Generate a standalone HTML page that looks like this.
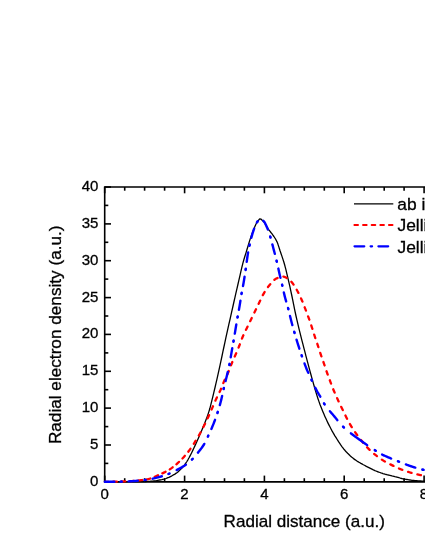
<!DOCTYPE html>
<html><head><meta charset="utf-8"><title>Radial electron density</title>
<style>
html,body{margin:0;padding:0;background:#fff;}
body{width:425px;height:550px;overflow:hidden;font-family:"Liberation Sans",sans-serif;}
svg{display:block;will-change:transform;}
text{font-family:"Liberation Sans",sans-serif;fill:#000;stroke:#000;stroke-width:0.3px;}
</style></head><body>
<svg width="425" height="550" viewBox="0 0 425 550">
<rect x="0" y="0" width="425" height="550" fill="#fff"/>
<g stroke="#000" stroke-width="1.6" fill="none" stroke-linecap="butt">
<path d="M432,187.0 L104.7,187.0 L104.7,481.85 L432,481.85" stroke-linejoin="miter"/>
<line x1="104.7" y1="481.85" x2="104.7" y2="475.6"/>
<line x1="104.7" y1="187.0" x2="104.7" y2="193.3"/>
<line x1="124.7" y1="481.85" x2="124.7" y2="478.2"/>
<line x1="124.7" y1="187.0" x2="124.7" y2="190.7"/>
<line x1="144.6" y1="481.85" x2="144.6" y2="478.2"/>
<line x1="144.6" y1="187.0" x2="144.6" y2="190.7"/>
<line x1="164.6" y1="481.85" x2="164.6" y2="478.2"/>
<line x1="164.6" y1="187.0" x2="164.6" y2="190.7"/>
<line x1="184.6" y1="481.85" x2="184.6" y2="475.6"/>
<line x1="184.6" y1="187.0" x2="184.6" y2="193.3"/>
<line x1="204.5" y1="481.85" x2="204.5" y2="478.2"/>
<line x1="204.5" y1="187.0" x2="204.5" y2="190.7"/>
<line x1="224.5" y1="481.85" x2="224.5" y2="478.2"/>
<line x1="224.5" y1="187.0" x2="224.5" y2="190.7"/>
<line x1="244.4" y1="481.85" x2="244.4" y2="478.2"/>
<line x1="244.4" y1="187.0" x2="244.4" y2="190.7"/>
<line x1="264.4" y1="481.85" x2="264.4" y2="475.6"/>
<line x1="264.4" y1="187.0" x2="264.4" y2="193.3"/>
<line x1="284.4" y1="481.85" x2="284.4" y2="478.2"/>
<line x1="284.4" y1="187.0" x2="284.4" y2="190.7"/>
<line x1="304.3" y1="481.85" x2="304.3" y2="478.2"/>
<line x1="304.3" y1="187.0" x2="304.3" y2="190.7"/>
<line x1="324.3" y1="481.85" x2="324.3" y2="478.2"/>
<line x1="324.3" y1="187.0" x2="324.3" y2="190.7"/>
<line x1="344.2" y1="481.85" x2="344.2" y2="475.6"/>
<line x1="344.2" y1="187.0" x2="344.2" y2="193.3"/>
<line x1="364.2" y1="481.85" x2="364.2" y2="478.2"/>
<line x1="364.2" y1="187.0" x2="364.2" y2="190.7"/>
<line x1="384.2" y1="481.85" x2="384.2" y2="478.2"/>
<line x1="384.2" y1="187.0" x2="384.2" y2="190.7"/>
<line x1="404.1" y1="481.85" x2="404.1" y2="478.2"/>
<line x1="404.1" y1="187.0" x2="404.1" y2="190.7"/>
<line x1="424.1" y1="481.85" x2="424.1" y2="475.6"/>
<line x1="424.1" y1="187.0" x2="424.1" y2="193.3"/>
<line x1="104.7" y1="481.9" x2="111.0" y2="481.9"/>
<line x1="104.7" y1="463.4" x2="108.3" y2="463.4"/>
<line x1="104.7" y1="445.0" x2="111.0" y2="445.0"/>
<line x1="104.7" y1="426.6" x2="108.3" y2="426.6"/>
<line x1="104.7" y1="408.1" x2="111.0" y2="408.1"/>
<line x1="104.7" y1="389.7" x2="108.3" y2="389.7"/>
<line x1="104.7" y1="371.3" x2="111.0" y2="371.3"/>
<line x1="104.7" y1="352.9" x2="108.3" y2="352.9"/>
<line x1="104.7" y1="334.4" x2="111.0" y2="334.4"/>
<line x1="104.7" y1="316.0" x2="108.3" y2="316.0"/>
<line x1="104.7" y1="297.6" x2="111.0" y2="297.6"/>
<line x1="104.7" y1="279.1" x2="108.3" y2="279.1"/>
<line x1="104.7" y1="260.7" x2="111.0" y2="260.7"/>
<line x1="104.7" y1="242.3" x2="108.3" y2="242.3"/>
<line x1="104.7" y1="223.9" x2="111.0" y2="223.9"/>
<line x1="104.7" y1="205.4" x2="108.3" y2="205.4"/>
<line x1="104.7" y1="187.0" x2="111.0" y2="187.0"/>
</g>
<g font-size="15px">
<text x="104.6" y="499.2" text-anchor="middle">0</text>
<text x="184.5" y="499.2" text-anchor="middle">2</text>
<text x="264.3" y="499.2" text-anchor="middle">4</text>
<text x="344.1" y="499.2" text-anchor="middle">6</text>
<text x="424.0" y="499.2" text-anchor="middle">8</text>
<text x="98.4" y="485.8" text-anchor="end">0</text>
<text x="98.4" y="448.9" text-anchor="end">5</text>
<text x="98.4" y="412.0" text-anchor="end">10</text>
<text x="98.4" y="375.2" text-anchor="end">15</text>
<text x="98.4" y="338.3" text-anchor="end">20</text>
<text x="98.4" y="301.5" text-anchor="end">25</text>
<text x="98.4" y="264.6" text-anchor="end">30</text>
<text x="98.4" y="227.8" text-anchor="end">35</text>
<text x="98.4" y="190.9" text-anchor="end">40</text>
</g>
<text x="223.6" y="526.5" font-size="17px" textLength="161.3" lengthAdjust="spacingAndGlyphs">Radial distance (a.u.)</text>
<text transform="translate(60.5,444.1) rotate(-90)" font-size="17px" textLength="218.6" lengthAdjust="spacingAndGlyphs">Radial electron density (a.u.)</text>
<g fill="none" stroke-linejoin="round">
<path d="M104.9,481.8 L105.9,481.8 L106.9,481.8 L107.9,481.8 L108.9,481.8 L109.9,481.8 L110.9,481.8 L111.9,481.8 L112.9,481.8 L113.9,481.8 L114.9,481.8 L115.9,481.8 L116.9,481.8 L117.9,481.8 L118.9,481.8 L119.9,481.8 L120.9,481.8 L121.9,481.8 L122.9,481.8 L123.9,481.8 L124.9,481.8 L125.9,481.8 L126.9,481.7 L127.9,481.7 L128.9,481.7 L129.9,481.7 L130.9,481.7 L131.9,481.7 L132.9,481.7 L133.9,481.7 L134.9,481.7 L135.9,481.7 L136.9,481.7 L137.9,481.7 L138.9,481.7 L139.9,481.6 L140.9,481.6 L141.9,481.6 L142.9,481.6 L143.9,481.5 L144.9,481.5 L145.9,481.5 L146.9,481.4 L147.9,481.4 L148.9,481.3 L149.9,481.3 L150.9,481.2 L151.9,481.2 L152.9,481.1 L153.9,481.0 L154.9,480.9 L155.9,480.8 L156.9,480.6 L157.9,480.4 L158.9,480.2 L159.9,480.0 L160.9,479.8 L161.9,479.6 L162.9,479.3 L163.9,479.1 L164.9,478.8 L165.9,478.5 L166.9,478.1 L167.9,477.7 L168.9,477.3 L169.9,476.8 L170.9,476.3 L171.9,475.8 L172.9,475.2 L173.9,474.7 L174.9,474.1 L175.9,473.4 L176.9,472.7 L177.9,471.9 L178.9,471.0 L179.9,470.1 L180.9,469.0 L181.9,468.0 L182.9,466.8 L183.9,465.7 L184.9,464.4 L185.9,463.0 L186.9,461.5 L187.9,459.8 L188.9,458.0 L189.9,456.1 L190.9,454.2 L191.9,452.2 L192.9,450.1 L193.9,448.0 L194.9,445.9 L195.9,443.7 L196.9,441.5 L197.9,439.2 L198.9,436.9 L199.9,434.6 L200.9,432.3 L201.9,430.0 L202.9,427.6 L203.9,425.2 L204.9,422.7 L205.9,420.1 L206.9,417.4 L207.9,414.6 L208.9,411.6 L209.9,408.3 L210.9,404.4 L211.9,400.4 L212.9,396.3 L213.9,392.2 L214.9,388.0 L215.9,383.7 L216.9,379.3 L217.9,374.9 L218.9,370.4 L219.9,365.9 L220.9,361.2 L221.9,356.5 L222.9,351.7 L223.9,347.0 L224.9,342.3 L225.9,337.7 L226.9,333.2 L227.9,328.7 L228.9,324.2 L229.9,319.8 L230.9,315.3 L231.9,310.9 L232.9,306.5 L233.9,302.0 L234.9,297.6 L235.9,293.2 L236.9,288.9 L237.9,284.5 L238.9,280.2 L239.9,275.8 L240.9,271.4 L241.9,267.1 L242.9,263.1 L243.9,259.5 L244.9,256.2 L245.9,253.1 L246.9,249.8 L247.9,246.5 L248.9,243.1 L249.9,239.9 L250.9,237.0 L251.9,234.2 L252.9,231.6 L253.9,229.0 L254.9,226.6 L255.9,224.3 L256.9,222.5 L257.9,221.0 L258.9,219.8 L259.9,218.8 L260.9,219.1 L261.9,220.0 L262.9,220.9 L263.9,221.9 L264.9,223.3 L265.9,225.1 L266.9,226.9 L267.9,228.5 L268.9,230.0 L269.9,231.2 L270.9,232.5 L271.9,233.7 L272.9,235.1 L273.9,236.5 L274.9,238.0 L275.9,239.7 L276.9,241.6 L277.9,244.1 L278.9,247.1 L279.9,250.3 L280.9,253.2 L281.9,256.1 L282.9,259.1 L283.9,262.3 L284.9,265.8 L285.9,269.7 L286.9,273.9 L287.9,278.1 L288.9,282.4 L289.9,286.7 L290.9,291.3 L291.9,296.0 L292.9,300.9 L293.9,305.9 L294.9,310.8 L295.9,315.5 L296.9,319.9 L297.9,324.2 L298.9,328.4 L299.9,332.4 L300.9,336.4 L301.9,340.3 L302.9,344.2 L303.9,348.1 L304.9,351.9 L305.9,355.8 L306.9,359.6 L307.9,363.4 L308.9,367.2 L309.9,370.9 L310.9,374.5 L311.9,378.1 L312.9,381.7 L313.9,385.2 L314.9,388.7 L315.9,392.1 L316.9,395.4 L317.9,398.5 L318.9,401.4 L319.9,404.2 L320.9,406.8 L321.9,409.3 L322.9,411.7 L323.9,414.1 L324.9,416.4 L325.9,418.6 L326.9,420.8 L327.9,422.9 L328.9,424.9 L329.9,426.8 L330.9,428.7 L331.9,430.6 L332.9,432.4 L333.9,434.1 L334.9,435.8 L335.9,437.4 L336.9,439.0 L337.9,440.6 L338.9,442.2 L339.9,443.7 L340.9,445.2 L341.9,446.6 L342.9,447.9 L343.9,449.2 L344.9,450.3 L345.9,451.5 L346.9,452.5 L347.9,453.6 L348.9,454.5 L349.9,455.5 L350.9,456.4 L351.9,457.3 L352.9,458.1 L353.9,458.9 L354.9,459.6 L355.9,460.3 L356.9,461.0 L357.9,461.6 L358.9,462.2 L359.9,462.8 L360.9,463.4 L361.9,463.9 L362.9,464.5 L363.9,465.0 L364.9,465.5 L365.9,466.1 L366.9,466.6 L367.9,467.2 L368.9,467.7 L369.9,468.2 L370.9,468.7 L371.9,469.2 L372.9,469.7 L373.9,470.1 L374.9,470.6 L375.9,471.0 L376.9,471.4 L377.9,471.8 L378.9,472.2 L379.9,472.5 L380.9,472.9 L381.9,473.2 L382.9,473.6 L383.9,473.9 L384.9,474.2 L385.9,474.5 L386.9,474.7 L387.9,475.0 L388.9,475.2 L389.9,475.4 L390.9,475.6 L391.9,475.9 L392.9,476.1 L393.9,476.3 L394.9,476.6 L395.9,476.8 L396.9,477.1 L397.9,477.4 L398.9,477.7 L399.9,478.0 L400.9,478.3 L401.9,478.5 L402.9,478.8 L403.9,479.0 L404.9,479.2 L405.9,479.4 L406.9,479.5 L407.9,479.7 L408.9,479.9 L409.9,480.0 L410.9,480.1 L411.9,480.3 L412.9,480.4 L413.9,480.5 L414.9,480.6 L415.9,480.6 L416.9,480.7 L417.9,480.8 L418.9,480.9 L419.9,480.9 L420.9,481.0 L421.9,481.1 L422.9,481.1 L423.9,481.2 L424.9,481.2 L425.9,481.2 L426.9,481.3 L427.9,481.3 L428.9,481.3 L429.9,481.4 L430.9,481.4 L431.9,481.4" stroke="#000" stroke-width="1.3"/>
<g stroke="#ff0000" stroke-width="2.3" stroke-linecap="round">
<path d="M104.90,481.80 L105.90,481.80 L106.90,481.79 L107.90,481.79 L108.90,481.78 L109.90,481.77 L110.90,481.76 L111.90,481.74 L112.90,481.72 L113.90,481.70 L114.90,481.68 L115.90,481.66 L116.90,481.64 L117.90,481.61 L118.90,481.58 L119.90,481.56 L120.90,481.53 L121.90,481.50 L122.90,481.47 L123.90,481.44 L124.90,481.40 L125.90,481.37 L126.90,481.33 L127.90,481.28 L128.90,481.23 L129.90,481.17 L130.90,481.11 L131.90,481.04 L132.90,480.97 L133.90,480.89 L134.90,480.80 L135.90,480.71 L136.90,480.61 L137.90,480.51 L138.90,480.40 L139.90,480.29 L140.90,480.17 L141.90,480.04 L142.90,479.91 L143.90,479.77 L144.90,479.62 L145.90,479.47 L146.90,479.32 L147.90,479.13 L148.90,478.90 L149.90,478.62 L150.90,478.29 L151.90,477.93 L152.90,477.55 L153.90,477.13 L154.90,476.70 L155.90,476.25 L156.90,475.80 L157.90,475.34 L158.90,474.89 L159.90,474.44 L160.90,474.00 L161.90,473.55 L162.90,473.09 L163.90,472.61 L164.90,472.12 L165.90,471.60 L166.90,471.06 L167.90,470.50 L168.90,469.91 L169.90,469.28 L170.90,468.61 L171.90,467.90 L172.90,467.15 L173.90,466.36 L174.90,465.55 L175.90,464.70 L176.90,463.82 L177.90,462.92 L178.90,462.01 L179.90,461.06 L180.90,460.08 L181.90,459.06 L182.90,458.01 L183.90,456.92 L184.90,455.79 L185.90,454.62 L186.40,454.03" stroke-dasharray="3.60 4.79"/>
<path d="M186.40,454.03 L187.40,452.80 L188.40,451.54 L189.40,450.23 L190.40,448.85 L191.40,447.42 L192.40,445.93 L193.40,444.40 L194.40,442.83 L195.40,441.23 L196.40,439.59 L197.40,437.93 L198.40,436.25 L199.40,434.50 L200.40,432.71 L201.40,430.87 L202.40,428.99 L203.40,427.06 L204.40,425.10 L205.40,423.10 L206.40,421.02 L207.40,418.87 L208.40,416.67 L209.40,414.44 L210.40,412.20 L211.40,409.94 L212.40,407.63 L213.40,405.28 L214.40,402.94 L215.40,400.64 L216.40,398.42 L217.40,396.33 L218.40,394.34 L219.40,392.36 L220.40,390.28 L221.40,387.98 L222.40,385.43 L223.40,382.87 L224.40,380.54 L225.40,378.50 L226.40,376.53 L227.40,374.43 L228.40,372.01 L229.40,369.38 L230.40,366.72 L231.40,364.22 L232.40,361.88 L233.40,359.61 L234.40,357.35 L235.40,355.05 L236.40,352.77 L237.40,350.47 L238.40,348.09 L239.40,345.53 L240.40,342.75 L241.40,339.98 L242.40,337.49 L243.40,335.25 L244.40,333.13 L245.40,331.07 L246.40,328.98 L247.40,326.89 L248.40,324.82 L249.40,322.75 L250.40,320.69 L251.40,318.64 L252.40,316.58 L253.40,314.54 L254.40,312.50 L255.40,310.47 L256.40,308.46 L257.40,306.45 L258.40,304.41 L259.40,302.31 L260.40,300.13 L261.40,297.96 L262.40,295.92 L263.40,294.09 L264.40,292.36 L265.40,290.71 L266.40,289.16 L267.40,287.73 L268.40,286.42 L269.40,285.20 L270.40,283.98 L271.40,282.81 L272.40,281.70 L273.40,280.69 L274.40,279.81 L275.40,279.09 L276.40,278.55 L277.40,278.11 L278.40,277.69 L279.40,277.31 L280.40,276.99 L281.40,276.76 L282.40,276.62 L283.40,276.62 L284.40,276.83 L285.40,277.23 L286.40,277.77 L287.40,278.40 L288.40,279.09 L289.40,279.80 L290.40,280.70 L291.40,281.80 L292.40,283.03 L293.40,284.34 L294.40,285.80 L295.40,287.43 L296.40,289.17 L297.40,291.00 L298.40,292.88 L299.40,294.85 L300.40,296.95 L301.40,299.16 L302.40,301.47 L303.40,303.95 L304.40,306.56 L305.40,309.21 L306.40,311.83 L307.40,314.44 L308.40,317.12 L309.40,319.91 L310.40,322.80 L311.40,325.79 L312.40,328.87 L313.40,332.10 L314.40,335.28 L315.40,338.28 L316.40,341.17 L317.40,344.10 L318.40,347.18 L319.40,350.34 L320.40,353.40 L321.40,356.27 L322.40,359.05 L323.40,361.90 L324.40,364.93 L325.40,368.02 L326.40,370.97 L327.40,373.74 L328.40,376.42 L329.40,379.10 L330.40,381.85 L331.40,384.60 L332.40,387.24 L333.40,389.70 L334.40,392.03 L335.40,394.29 L336.40,396.52 L337.40,398.75 L338.40,400.95 L339.40,403.11 L340.40,405.23 L341.40,407.31 L342.40,409.36 L343.40,411.38 L344.40,413.41 L345.40,415.46 L346.40,417.52 L347.40,419.52 L348.40,421.42 L349.40,423.20 L350.40,424.91 L351.40,426.57 L352.40,428.16 L353.40,429.70 L354.40,431.19 L355.40,432.62 L356.40,433.99 L357.40,435.32 L358.40,436.62 L359.40,437.91 L360.40,439.21 L361.40,440.50 L362.40,441.80 L363.40,443.06 L364.40,444.30 L365.40,445.48 L366.40,446.59 L367.40,447.65 L368.40,448.67 L369.40,449.66 L370.40,450.61 L371.40,451.53 L372.40,452.42 L373.40,453.29 L374.40,454.12 L375.40,454.93 L376.40,455.72 L377.40,456.48 L378.40,457.23 L379.40,457.96 L380.40,458.66 L381.40,459.34 L382.40,459.99 L383.40,460.62 L384.40,461.22 L385.40,461.79 L386.40,462.33 L387.40,462.86 L388.40,463.37 L389.40,463.87 L390.40,464.37 L391.40,464.86 L392.40,465.35 L393.40,465.85 L394.40,466.34 L395.40,466.84 L396.40,467.32 L397.40,467.80 L398.40,468.26 L399.40,468.70 L400.40,469.12 L401.40,469.52 L402.40,469.90 L403.40,470.28 L404.40,470.64 L405.40,470.99 L406.40,471.33 L407.40,471.66 L408.40,471.97 L409.40,472.27 L410.40,472.56 L411.40,472.83 L412.40,473.09 L413.40,473.35 L414.40,473.59 L415.40,473.83 L416.40,474.07 L417.40,474.31 L418.40,474.55 L419.40,474.79 L420.40,475.02 L421.40,475.26 L422.40,475.49 L423.40,475.71 L424.40,475.92 L425.40,476.12 L426.40,476.32 L427.40,476.51 L428.40,476.69 L429.40,476.87 L430.40,477.04 L431.40,477.20 L432.00,477.30" stroke-dasharray="3.60 6.05" stroke-dashoffset="6.63"/>
</g>
<g stroke="#0000ff" stroke-width="2.4" stroke-linecap="round">
<path d="M104.90,481.80 L105.40,481.80 L105.90,481.80 L106.40,481.80 L106.90,481.80 L107.40,481.79 L107.90,481.79 L108.40,481.79 L108.90,481.79 L109.40,481.78 L109.90,481.78 L110.40,481.77 L110.90,481.77 L111.40,481.76 L111.90,481.76 L112.40,481.75 L112.90,481.74 L113.40,481.74 L113.90,481.73 L114.40,481.72 L114.90,481.71 L115.40,481.71 L115.90,481.70 L116.40,481.69 L116.90,481.68 L117.40,481.67 L117.90,481.66 L118.40,481.65 L118.90,481.64 L119.40,481.63 L119.90,481.62 L120.40,481.61 L120.90,481.60 L121.20,481.59" stroke-dasharray="9.50 6.15 0.65 0"/>
<path d="M121.20,481.59 L121.70,481.58 L122.20,481.57 L122.70,481.56 L123.20,481.54 L123.70,481.53 L124.20,481.52 L124.70,481.51 L125.20,481.49 L125.70,481.48 L126.20,481.47 L126.70,481.45 L127.20,481.43 L127.70,481.41 L128.20,481.39 L128.70,481.36 L129.20,481.34 L129.70,481.31 L130.20,481.29 L130.70,481.26 L131.20,481.23 L131.70,481.20 L132.20,481.16 L132.70,481.13 L133.20,481.09 L133.70,481.06 L134.20,481.02 L134.70,480.98 L135.20,480.94 L135.70,480.90 L136.20,480.86 L136.70,480.81 L137.20,480.77 L137.70,480.72 L138.20,480.68 L138.70,480.63 L139.20,480.58 L139.70,480.53 L140.20,480.48 L140.70,480.43 L141.20,480.37 L141.70,480.32 L142.20,480.27 L142.70,480.21 L143.20,480.15 L143.70,480.10 L144.20,480.04 L144.70,479.98 L145.15,479.93" stroke-dasharray="0.65 6.74 9.25 6.74 0.65 0"/>
<path d="M145.15,479.93 L145.65,479.87 L146.15,479.81 L146.65,479.74 L147.15,479.68 L147.65,479.61 L148.15,479.54 L148.65,479.46 L149.15,479.38 L149.65,479.30 L150.15,479.20 L150.65,479.11 L151.15,479.01 L151.65,478.90 L152.15,478.80 L152.65,478.69 L153.15,478.57 L153.65,478.45 L154.15,478.34 L154.65,478.21 L155.15,478.09 L155.65,477.96 L156.15,477.83 L156.65,477.70 L157.15,477.57 L157.65,477.44 L158.15,477.30 L158.65,477.17 L159.15,477.03 L159.65,476.90 L160.15,476.76 L160.65,476.62 L161.15,476.48 L161.65,476.33 L162.15,476.18 L162.65,476.03 L163.15,475.87 L163.65,475.71 L164.15,475.54 L164.65,475.37 L165.15,475.20 L165.65,475.03 L166.15,474.85 L166.65,474.66 L167.15,474.48 L167.65,474.29 L168.15,474.10 L168.65,473.90 L169.00,473.76" stroke-dasharray="0.65 6.95 9.51 6.95 0.65 0"/>
<path d="M169.00,473.76 L169.50,473.56 L170.00,473.35 L170.50,473.14 L171.00,472.92 L171.50,472.69 L172.00,472.46 L172.50,472.22 L173.00,471.97 L173.50,471.73 L174.00,471.47 L174.50,471.22 L175.00,470.96 L175.50,470.69 L176.00,470.43 L176.50,470.16 L177.00,469.89 L177.50,469.62 L178.00,469.34 L178.50,469.07 L179.00,468.79 L179.50,468.51 L180.00,468.24 L180.50,467.97 L181.00,467.69 L181.50,467.41 L182.00,467.14 L182.50,466.85 L183.00,466.56 L183.50,466.27 L184.00,465.97 L184.50,465.67 L185.00,465.35 L185.50,465.03 L186.00,464.70 L186.50,464.36 L187.00,464.00 L187.50,463.64 L188.00,463.26 L188.50,462.86 L189.00,462.44 L189.50,462.01 L190.00,461.55 L190.50,461.07 L191.00,460.58 L191.50,460.06 L192.00,459.54 L192.30,459.22" stroke-dasharray="0.65 7.86 10.65 7.86 0.65 0"/>
<path d="M192.30,459.22 L192.80,458.67 L193.30,458.11 L193.80,457.54 L194.30,456.96 L194.80,456.37 L195.30,455.78 L195.80,455.18 L196.30,454.58 L196.80,453.97 L197.30,453.36 L197.80,452.76 L198.30,452.15 L198.80,451.54 L199.30,450.92 L199.80,450.30 L200.30,449.67 L200.80,449.02 L201.30,448.36 L201.80,447.69 L202.30,446.99 L202.80,446.27 L203.30,445.53 L203.80,444.75 L204.30,443.95 L204.80,443.12 L205.30,442.24 L205.80,441.26 L206.30,440.19 L206.80,439.07 L207.30,437.92 L207.80,436.77 L208.10,436.10" stroke-dasharray="0.65 8.01 10.85 8.01 0.65 0"/>
<path d="M208.10,436.10 L208.60,435.00 L209.10,433.91 L209.60,432.83 L210.10,431.74 L210.60,430.64 L211.10,429.53 L211.60,428.40 L212.10,427.25 L212.60,426.07 L213.10,424.85 L213.60,423.59 L214.10,422.31 L214.60,420.99 L215.10,419.65 L215.60,418.27 L216.10,416.86 L216.60,415.41 L217.10,413.92 L217.60,412.40" stroke-dasharray="0.65 7.21 9.84 7.21 0.65 0"/>
<path d="M217.60,412.40 L218.10,410.84 L218.60,409.24 L219.10,407.60 L219.60,405.90 L220.10,404.14 L220.60,402.30 L221.10,400.39 L221.60,398.34 L222.10,396.10 L222.60,393.75 L223.10,391.40 L223.60,389.13 L223.75,388.49" stroke-dasharray="0.65 6.95 9.51 6.95 0.65 0"/>
<path d="M223.75,388.49 L224.25,386.38 L224.75,384.33 L225.25,382.32 L225.75,380.31 L226.25,378.28 L226.75,376.21 L227.25,374.12 L227.75,372.06 L228.25,369.96 L228.75,367.77 L229.25,365.44 L229.45,364.45" stroke-dasharray="0.65 6.95 9.51 6.95 0.65 0"/>
<path d="M229.45,364.45 L229.95,361.76 L230.45,358.85 L230.95,355.84 L231.45,352.86 L231.95,350.02 L232.45,347.23 L232.95,344.45 L233.45,341.65 L233.55,341.08" stroke-dasharray="0.65 6.65 9.13 6.65 0.65 0"/>
<path d="M233.55,341.08 L234.05,338.19 L234.55,335.18 L235.05,332.07 L235.55,329.00 L236.05,326.02 L236.55,323.07 L237.05,320.16 L237.55,317.29 L237.60,317.00" stroke-dasharray="0.65 6.86 9.40 6.86 0.65 0"/>
<path d="M237.60,317.00 L238.10,314.20 L238.60,311.45 L239.10,308.70 L239.60,305.87 L240.10,302.87 L240.60,299.67 L241.10,296.45 L241.60,293.40" stroke-dasharray="0.65 6.71 9.22 6.71 0.65 0"/>
<path d="M241.60,293.40 L242.10,290.63 L242.60,288.02 L243.10,285.42 L243.60,282.68 L244.10,279.71 L244.60,276.57 L245.10,273.32 L245.60,270.00 L245.70,269.32" stroke-dasharray="0.65 6.86 9.40 6.86 0.65 0"/>
<path d="M245.70,269.32 L246.20,265.73 L246.70,261.96 L247.20,258.25 L247.70,254.82 L248.20,251.88 L248.70,249.22 L249.20,246.77 L249.55,245.15" stroke-dasharray="0.65 6.88 9.43 6.88 0.65 0"/>
<path d="M249.55,245.15 L250.05,242.96 L250.55,240.89 L251.05,238.89 L251.55,236.98 L252.05,235.16 L252.55,233.44 L253.05,231.84 L253.55,230.37 L254.05,228.95 L254.55,227.57 L255.05,226.27 L255.55,225.06 L256.05,223.97 L256.55,223.02 L257.05,222.21 L257.30,221.85" stroke-dasharray="0.65 6.93 9.50 6.93 0.65 0"/>
<path d="M257.30,221.85 L257.80,221.17 L258.30,220.57 L258.80,220.04 L259.30,219.60 L259.80,219.18 L260.30,218.91 L260.80,219.02 L261.30,219.36 L261.80,219.69 L262.30,220.02 L262.80,220.38 L263.30,220.80 L263.80,221.30 L264.30,221.93 L264.80,222.73 L265.30,223.65 L265.80,224.68 L266.30,225.77 L266.80,226.91 L267.30,228.07 L267.80,229.32 L268.30,230.68 L268.80,232.12 L269.30,233.63 L269.80,235.21 L270.30,236.83 L270.35,237.00" stroke-dasharray="0.65 7.23 9.87 7.23 0.65 0"/>
<path d="M270.35,237.00 L270.85,238.77 L271.35,240.65 L271.85,242.56 L272.35,244.43 L272.85,246.31 L273.35,248.19 L273.85,250.08 L274.35,251.98 L274.85,253.91 L275.35,255.83 L275.85,257.77 L276.35,259.76 L276.70,261.20" stroke-dasharray="0.65 7.04 9.63 7.04 0.65 0"/>
<path d="M276.70,261.20 L277.20,263.37 L277.70,265.64 L278.20,267.95 L278.70,270.26 L279.20,272.50 L279.70,274.66 L280.20,276.78 L280.70,278.88 L281.20,280.97 L281.70,283.07 L282.20,285.20" stroke-dasharray="0.65 6.92 9.48 6.92 0.65 0"/>
<path d="M282.20,285.20 L282.70,287.39 L283.20,289.62 L283.70,291.86 L284.20,294.03 L284.70,296.10 L285.20,298.03 L285.70,299.84 L286.20,301.58 L286.70,303.29 L287.20,305.00 L287.70,306.76 L288.20,308.60" stroke-dasharray="0.65 6.78 9.30 6.78 0.65 0"/>
<path d="M288.20,308.60 L288.70,310.56 L289.20,312.60 L289.70,314.69 L290.20,316.78 L290.70,318.83 L291.20,320.80 L291.70,322.70 L292.20,324.56 L292.70,326.38 L293.20,328.18 L293.70,329.95 L294.20,331.70 L294.40,332.40" stroke-dasharray="0.65 6.91 9.47 6.91 0.65 0"/>
<path d="M294.40,332.40 L294.90,334.13 L295.40,335.84 L295.90,337.54 L296.40,339.21 L296.90,340.86 L297.40,342.48 L297.90,344.08 L298.40,345.66 L298.90,347.20 L299.40,348.73 L299.90,350.23 L300.40,351.72 L300.90,353.19 L301.40,354.65 L301.80,355.80" stroke-dasharray="0.65 6.90 9.45 6.90 0.65 0"/>
<path d="M301.80,355.80 L302.30,357.24 L302.80,358.68 L303.30,360.11 L303.80,361.53 L304.30,362.93 L304.80,364.30 L305.30,365.64 L305.80,366.94 L306.30,368.20 L306.80,369.42 L307.30,370.60 L307.80,371.76 L308.30,372.88 L308.80,373.99 L309.30,375.08 L309.80,376.16 L310.30,377.23 L310.80,378.29 L311.30,379.35 L311.70,380.20" stroke-dasharray="0.65 7.45 10.15 7.45 0.65 0"/>
<path d="M311.70,380.20 L312.20,381.26 L312.70,382.33 L313.20,383.40 L313.70,384.45 L314.20,385.51 L314.70,386.55 L315.20,387.57 L315.70,388.58 L316.20,389.57 L316.70,390.53 L317.20,391.47 L317.70,392.38 L318.20,393.23 L318.70,394.05 L319.20,394.84 L319.70,395.64 L320.20,396.46 L320.70,397.32 L321.20,398.23 L321.70,399.18 L322.20,400.13 L322.70,401.08 L323.20,402.01 L323.70,402.90 L324.20,403.73 L324.30,403.89" stroke-dasharray="0.65 7.61 10.34 7.61 0.65 0"/>
<path d="M324.30,403.89 L324.80,404.65 L325.30,405.37 L325.80,406.08 L326.30,406.76 L326.80,407.43 L327.30,408.07 L327.80,408.70 L328.30,409.32 L328.80,409.93 L329.30,410.52 L329.80,411.11 L330.30,411.69 L330.80,412.27 L331.30,412.85 L331.80,413.42 L332.30,414.00 L332.80,414.58 L333.30,415.17 L333.80,415.76 L334.30,416.36 L334.80,416.97 L335.30,417.58 L335.80,418.20 L336.30,418.81 L336.80,419.43 L337.30,420.05 L337.80,420.66 L338.30,421.27 L338.80,421.88 L339.30,422.48 L339.80,423.07 L340.30,423.65 L340.80,424.23 L341.30,424.79 L341.80,425.34 L342.30,425.88 L342.80,426.40 L343.30,426.90 L343.50,427.10" stroke-dasharray="0.65 8.62 11.61 8.62 0.65 0"/>
<path d="M343.50,427.10 L344.00,427.58 L344.50,428.05 L345.00,428.51 L345.50,428.95 L346.00,429.39 L346.50,429.81 L347.00,430.23 L347.50,430.64 L348.00,431.05 L348.50,431.45 L349.00,431.85 L349.50,432.25 L350.00,432.64 L350.50,433.04 L351.00,433.43 L351.50,433.82 L352.00,434.20 L352.50,434.58 L353.00,434.95 L353.50,435.33 L354.00,435.70 L354.50,436.06 L355.00,436.43 L355.50,436.79 L356.00,437.15 L356.50,437.51 L357.00,437.87 L357.50,438.23 L358.00,438.59 L358.50,438.95 L359.00,439.31 L359.50,439.67 L360.00,440.03 L360.50,440.39 L361.00,440.75 L361.50,441.11 L362.00,441.47 L362.50,441.82 L363.00,442.18 L363.50,442.53 L364.00,442.89 L364.50,443.24 L365.00,443.59 L365.50,443.94 L366.00,444.29 L366.50,444.63 L367.00,444.98 L367.50,445.32 L368.00,445.66 L368.50,446.00 L369.00,446.34 L369.50,446.68 L370.00,447.02 L370.50,447.35 L371.00,447.69 L371.50,448.02 L372.00,448.35 L372.50,448.67 L373.00,449.00 L373.50,449.32 L374.00,449.64 L374.50,449.96 L375.00,450.28 L375.25,450.43" stroke-dasharray="0.65 9.04 20.11 9.00 0.65 0"/>
<path d="M375.25,450.43 L375.75,450.74 L376.25,451.06 L376.75,451.37 L377.25,451.68 L377.75,451.99 L378.25,452.30 L378.75,452.60 L379.25,452.90 L379.75,453.20 L380.25,453.49 L380.75,453.77 L381.25,454.05 L381.75,454.31 L382.25,454.57 L382.75,454.83 L383.25,455.07 L383.75,455.31 L384.25,455.55 L384.75,455.78 L385.25,456.01 L385.75,456.24 L386.25,456.46 L386.75,456.68 L387.25,456.89 L387.75,457.10 L388.25,457.31 L388.75,457.52 L389.25,457.73 L389.75,457.94 L390.25,458.15 L390.75,458.35 L391.25,458.56 L391.75,458.77 L392.25,458.98 L392.75,459.19 L393.25,459.39 L393.75,459.60 L394.25,459.80 L394.75,460.00 L395.25,460.20 L395.75,460.40 L396.25,460.60 L396.75,460.80 L397.25,461.00 L397.75,461.20 L398.25,461.40 L398.50,461.50" stroke-dasharray="0.65 7.29 9.94 7.29 0.65 0"/>
<path d="M398.50,461.50 L399.00,461.70 L399.50,461.91 L400.00,462.11 L400.50,462.32 L401.00,462.53 L401.50,462.73 L402.00,462.94 L402.50,463.14 L403.00,463.35 L403.50,463.55 L404.00,463.74 L404.50,463.94 L405.00,464.13 L405.50,464.31 L406.00,464.49 L406.50,464.68 L407.00,464.86 L407.50,465.04 L408.00,465.22 L408.50,465.39 L409.00,465.57 L409.50,465.74 L410.00,465.92 L410.50,466.09 L411.00,466.26 L411.50,466.42 L412.00,466.59 L412.50,466.75 L413.00,466.92 L413.50,467.08 L414.00,467.24 L414.50,467.39 L415.00,467.55 L415.50,467.70 L416.00,467.85 L416.50,468.00 L417.00,468.15 L417.50,468.29 L418.00,468.43 L418.50,468.57 L419.00,468.71 L419.50,468.85 L420.00,468.98 L420.50,469.12 L421.00,469.25 L421.50,469.38 L422.00,469.51 L422.50,469.63 L422.95,469.75" stroke-dasharray="0.65 7.29 9.94 7.29 0.65 0"/>
<path d="M422.95,469.75 L423.45,469.87 L423.95,469.99 L424.45,470.12 L424.95,470.24 L425.45,470.36 L425.95,470.47 L426.45,470.59 L426.95,470.71 L427.45,470.82 L427.95,470.93 L428.45,471.05 L428.95,471.16 L429.45,471.27 L429.95,471.37 L430.45,471.48 L430.95,471.58 L431.45,471.69 L431.95,471.79 L432.00,471.80" stroke-dasharray="0.65 7.28 9.93 7.28 0.65 0"/>
</g>
</g>
<g fill="none">
<line x1="354" y1="203.9" x2="393.3" y2="203.9" stroke="#000" stroke-width="1.2"/>
<line x1="354.4" y1="225" x2="392.5" y2="225" stroke="#ff0000" stroke-width="2" stroke-linecap="round" stroke-dasharray="3.6 5.04"/>
<line x1="354.5" y1="246.3" x2="388.2" y2="246.3" stroke="#0000ff" stroke-width="2.2" stroke-linecap="round" stroke-dasharray="9.8 6.3 1.5 6.3"/>
</g>
<g font-size="17.4px">
<text x="397.3" y="210.2">ab initio</text>
<text x="397.5" y="231.2">Jellium</text>
<text x="397.5" y="252.7">Jellium</text>
</g>
</svg>
</body></html>
